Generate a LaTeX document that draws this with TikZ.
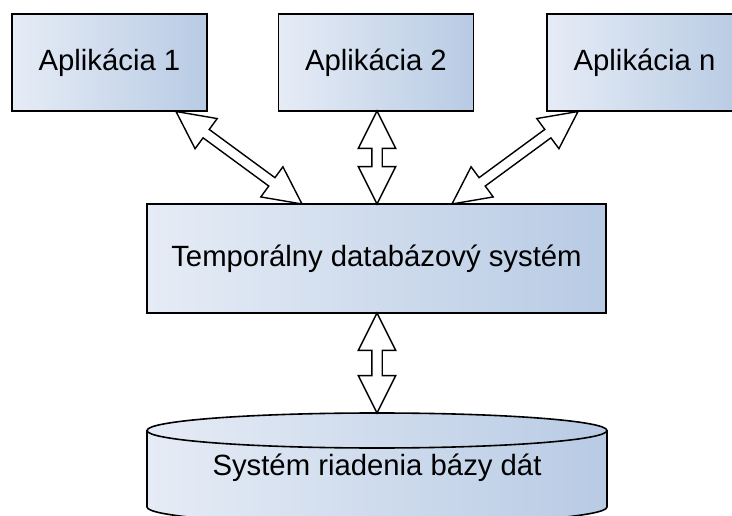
\documentclass[tikz,border=0pt]{standalone}
\usepackage{fontspec}
\setmainfont{Liberation Sans}
\usetikzlibrary{shapes.arrows,calc}
\definecolor{fillL}{RGB}{230,236,246}
\definecolor{fillR}{RGB}{184,203,228}
\tikzset{
  appbox/.style={draw=black, line width=1.6pt, left color=fillL, right color=fillR,
    minimum width=195pt, minimum height=97pt, inner sep=0pt,
    font=\fontsize{29.3}{34}\selectfont},
  midbox/.style={appbox, minimum width=459pt, minimum height=109pt},
  lbl/.style={font=\fontsize{29.3}{34}\selectfont, inner sep=0pt},
  dblarrow/.style={double arrow, draw=black, fill=white, line width=1.4pt,
    double arrow head extend=13.5pt, inner xsep=0pt, inner ysep=4.5pt,
    double arrow tip angle=53.13, outer sep=0pt, line join=miter},
}
\newcommand{\blockarrow}[2]{%
  \path let \p1=(#1), \p2=(#2),
    \n1={atan2(\y2-\y1,\x2-\x1)}, \n2={veclen(\x2-\x1,\y2-\y1)} in
    node[dblarrow, minimum height=\n2, rotate=\n1] at ($(\p1)!0.5!(\p2)$) {};}
\begin{document}
\begin{tikzpicture}[x=1pt,y=1pt]
\useasboundingbox (0,0) rectangle (732,515);
\clip (0,0) rectangle (732,515);
% application boxes
\node[appbox] (app1) at (109.5,452.5) {Aplikácia 1};
\node[appbox] (app2) at (376,452.5) {Aplikácia 2};
\node[appbox] (appn) at (644.5,452.5) {Aplikácia n};
% middle box
\node[midbox] (mid) at (376.5,256.5) {Temporálny databázový systém};
% cylinder
\shade[left color=fillL, right color=fillR]
  (147,84.5) -- (147,8) arc[start angle=180, end angle=360, x radius=230, y radius=17.5]
  -- (607,84.5) arc[start angle=0, end angle=180, x radius=230, y radius=17.5] -- cycle;
\draw[line width=1.6pt]
  (147,84.5) -- (147,8) arc[start angle=180, end angle=360, x radius=230, y radius=17.5]
  -- (607,84.5) arc[start angle=0, end angle=360, x radius=230, y radius=17.5];
\node[lbl] (db) at (377,47) {Systém riadenia bázy dát};
% arrow end points
\coordinate (t1a) at (176,403.5);
\coordinate (t1b) at (302,311);
\coordinate (t2a) at (377,404);
\coordinate (t2b) at (377,311);
\coordinate (tna) at (578,403.5);
\coordinate (tnb) at (452,311);
\coordinate (t4a) at (377,202);
\coordinate (t4b) at (377,102);
\blockarrow{t1a}{t1b}
\blockarrow{t2a}{t2b}
\blockarrow{tna}{tnb}
\blockarrow{t4a}{t4b}
\end{tikzpicture}
\end{document}
